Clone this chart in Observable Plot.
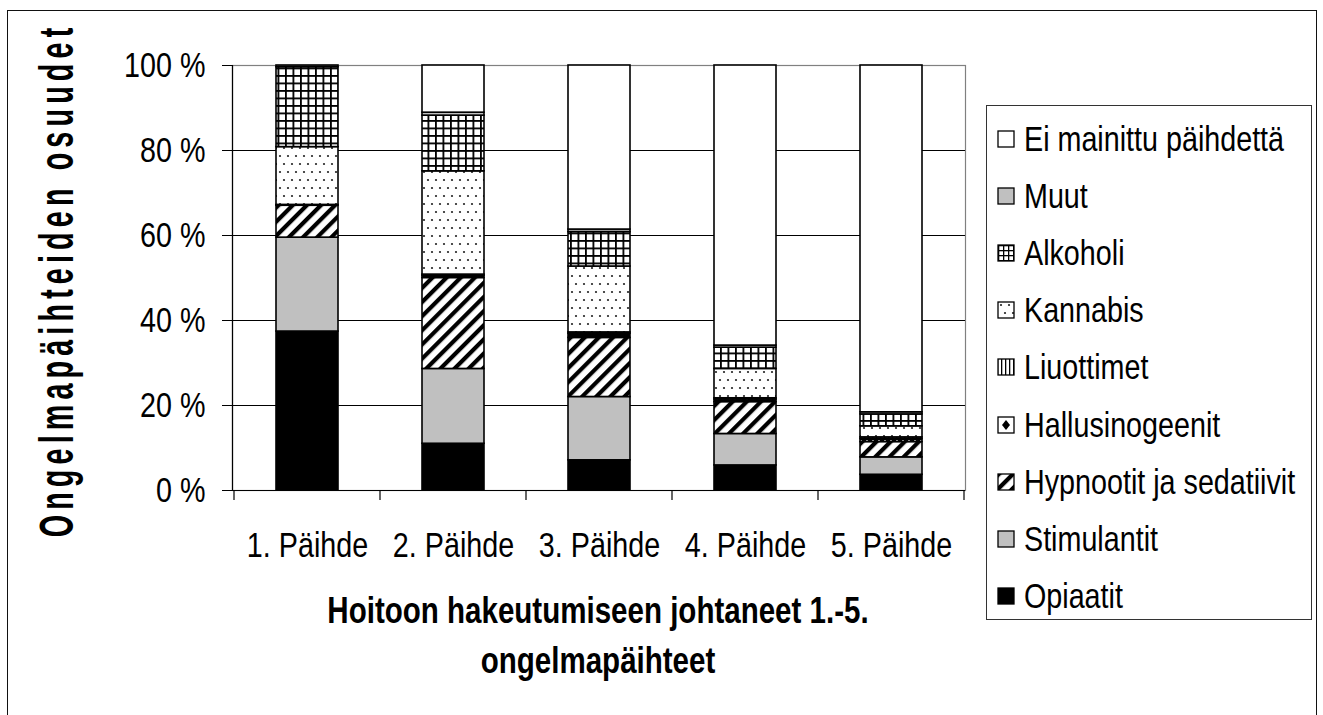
<!DOCTYPE html>
<html><head><meta charset="utf-8">
<script src="https://cdn.jsdelivr.net/npm/d3@7"></script>
<script src="https://cdn.jsdelivr.net/npm/@observablehq/plot@0.6"></script>
<style>
html,body{margin:0;padding:0;background:#fff;width:1323px;height:715px;overflow:hidden;}
#wrap{position:relative;width:1323px;height:715px;font-family:"Liberation Sans",Arial,sans-serif;color:#000;}
#border{position:absolute;left:7px;top:10px;width:1310px;height:730px;border:1.5px solid #111;box-sizing:border-box;}
#chart{position:absolute;left:0;top:0;}
#ytitle{position:absolute;left:57px;top:280px;transform:translate(-50%,-50%) rotate(-90deg) scaleX(0.6);white-space:nowrap;font-weight:bold;font-size:48px;line-height:1;letter-spacing:8.5px;}
#xtitle{position:absolute;left:198px;width:800px;top:586px;text-align:center;font-weight:bold;font-size:36px;line-height:50px;white-space:nowrap;transform:scaleX(0.82);transform-origin:50% 0;}
#legend{position:absolute;left:986px;top:105px;width:326px;height:515px;border:1.5px solid #333;box-sizing:border-box;}
.row{position:absolute;left:10px;height:40px;display:flex;align-items:center;font-size:35px;white-space:nowrap;}
.row svg{margin-right:9px;flex:none;}
.row span{display:inline-block;transform:scaleX(0.82);transform-origin:0 50%;}
</style></head><body>
<div id="wrap">
<svg width="0" height="0" style="position:absolute">
<defs>
<pattern id="pDiag" patternUnits="userSpaceOnUse" width="10" height="10" patternTransform="rotate(45)">
<rect width="10" height="10" fill="#fff"/><rect x="0" width="4.2" height="10" fill="#000"/>
</pattern>
<pattern id="pDots" patternUnits="userSpaceOnUse" width="16" height="16">
<rect width="16" height="16" fill="#fff"/>
<circle cx="4" cy="4" r="1.1" fill="#222"/><circle cx="12" cy="4" r="1.1" fill="#222"/>
<circle cx="0" cy="12" r="1.1" fill="#222"/><circle cx="8" cy="12" r="1.1" fill="#222"/><circle cx="16" cy="12" r="1.1" fill="#222"/>
</pattern>
<pattern id="pGrid" patternUnits="userSpaceOnUse" width="7.5" height="7.5">
<rect width="7.5" height="7.5" fill="#fff"/><rect x="0" y="0" width="1.8" height="7.5" fill="#000"/><rect x="0" y="0" width="7.5" height="1.8" fill="#000"/>
</pattern>
<pattern id="pGridLegend" patternUnits="userSpaceOnUse" width="5" height="5" x="1" y="1">
<rect width="5" height="5" fill="#fff"/><rect x="0" y="0" width="1.3" height="5" fill="#000"/><rect x="0" y="0" width="5" height="1.3" fill="#000"/>
</pattern>
<pattern id="pVert" patternUnits="userSpaceOnUse" width="4" height="4">
<rect width="4" height="4" fill="#fff"/><rect x="0" width="1.3" height="4" fill="#000"/>
</pattern>
<pattern id="pDiamond" patternUnits="userSpaceOnUse" width="6" height="6">
<rect width="6" height="6" fill="#000"/><circle cx="3" cy="3" r="0.9" fill="#fff"/>
</pattern>
<pattern id="pDiamondLegend" patternUnits="userSpaceOnUse" width="16" height="16">
<rect width="16" height="16" fill="#fff"/><path d="M9 4 L13 9 L9 14 L5 9 Z" fill="#000"/>
</pattern>
</defs>
</svg>
<div id="border"></div>
<div id="chart"></div>
<div id="ytitle">Ongelmapäihteiden osuudet</div>
<div id="xtitle">Hoitoon hakeutumiseen johtaneet 1.-5.<br>ongelmapäihteet</div>
<div id="legend"></div>
</div>
<script>
// ---- data ----
const categories = ["1. Päihde", "2. Päihde", "3. Päihde", "4. Päihde", "5. Päihde"];
const series = ["Opiaatit", "Stimulantit", "Hypnootit ja sedatiivit", "Hallusinogeenit", "Liuottimet", "Kannabis", "Alkoholi", "Muut", "Ei mainittu päihdettä"];
const opiaatit        = [37.4, 11.0,  7.1,  5.9,  3.7];
const stimulantit     = [22.1, 17.6, 14.9,  7.4,  4.1];
const hypnootit       = [ 7.5, 21.4, 13.9,  7.5,  3.6];
const hallusinogeenit = [ 0.2,  0.5,  1.0,  0.6,  0.7];
const liuottimet      = [ 0.0,  0.3,  0.3,  0.3,  0.4];
const kannabis        = [13.6, 24.3, 15.5,  6.9,  2.6];
const alkoholi        = [18.8, 13.1,  8.1,  5.0,  2.8];
const muut            = [ 0.4,  0.7,  0.6,  0.5,  0.5];
const eiMainittu      = [ 0.0, 11.1, 38.6, 65.9, 81.6];
const yTicks = [0, 20, 40, 60, 80, 100];

// ---- styles ----
const fills = ["#000", "#c0c0c0", "url(#pDiag)", "url(#pDiamond)", "url(#pVert)", "url(#pDots)", "url(#pGrid)", "#c0c0c0", "#fff"];
const legendFills = ["#000", "#c0c0c0", "url(#pDiag)", "url(#pDiamondLegend)", "url(#pVert)", "url(#pDots)", "url(#pGridLegend)", "#c0c0c0", "#fff"];

const valuesBySeries = [opiaatit, stimulantit, hypnootit, hallusinogeenit, liuottimet, kannabis, alkoholi, muut, eiMainittu];
const data = [];
categories.forEach((c, i) => series.forEach((s, j) => data.push({cat: c, series: s, value: valuesBySeries[j][i]})));

const font = '"Liberation Sans",Arial,sans-serif';
const plot = Plot.plot({
  width: 1323, height: 715,
  marginLeft: 232, marginRight: 358, marginTop: 65, marginBottom: 225,
  style: {fontFamily: font, fontSize: "35px", color: "#000", background: "transparent", overflow: "visible"},
  x: {domain: categories, paddingInner: 0.577, paddingOuter: 0.2885, label: null},
  y: {domain: [0, 100], label: null},
  color: {domain: series, range: fills},
  marks: [
    Plot.frame({stroke: "#808080", strokeWidth: 1.2}),
    Plot.ruleY([20, 40, 60, 80], {stroke: "#000", strokeWidth: 1}),
    Plot.barY(data, {x: "cat", y: "value", fill: "series", stroke: "#000", strokeWidth: 1.6}),
    Plot.ruleY([0], {stroke: "#000", strokeWidth: 1.2}),
    Plot.frame({anchor: "left", stroke: "#000", strokeWidth: 1.2}),
    Plot.axisY({ticks: yTicks, tickFormat: d => `${d} %`, tickSize: 10, tickPadding: 17, label: null, stroke: "#000"}),
    Plot.axisX({tickSize: 0, tickPadding: 42, label: null})
  ]
});
document.getElementById("chart").appendChild(plot);

// condense axis text horizontally (narrow face look) via textLength
d3.select(plot).selectAll("text").each(function() {
  const w = this.getComputedTextLength();
  if (w > 0) {
    this.setAttribute("textLength", (w * 0.82).toFixed(2));
    this.setAttribute("lengthAdjust", "spacingAndGlyphs");
  }
});

// category boundary ticks below the x axis, from the library's band scale
const xs = plot.scale("x"), ys = plot.scale("y");
const y0 = ys.apply(0);
const half = (xs.step - xs.bandwidth) / 2;
const bounds = categories.map(c => xs.apply(c) - half);
bounds.push(xs.apply(categories[categories.length - 1]) + xs.bandwidth + half);
d3.select(plot).append("g").selectAll("line").data(bounds).join("line")
  .attr("x1", d => d).attr("x2", d => d).attr("y1", y0).attr("y2", y0 + 10)
  .attr("stroke", "#000").attr("stroke-width", 1.2);

// legend (reverse order, as in the original)
const legend = d3.select("#legend");
const order = series.map((s, i) => i).reverse();
order.forEach((idx, k) => {
  const row = legend.append("div").attr("class", "row").style("top", `${13 + k * 57.1}px`);
  const sw = row.append("svg").attr("width", 18).attr("height", 18);
  sw.append("rect").attr("x", 1).attr("y", 1).attr("width", 16).attr("height", 16)
    .attr("fill", legendFills[idx]).attr("stroke", "#000").attr("stroke-width", 1.3);
  row.append("span").text(series[idx]);
});
</script>
</body></html>
